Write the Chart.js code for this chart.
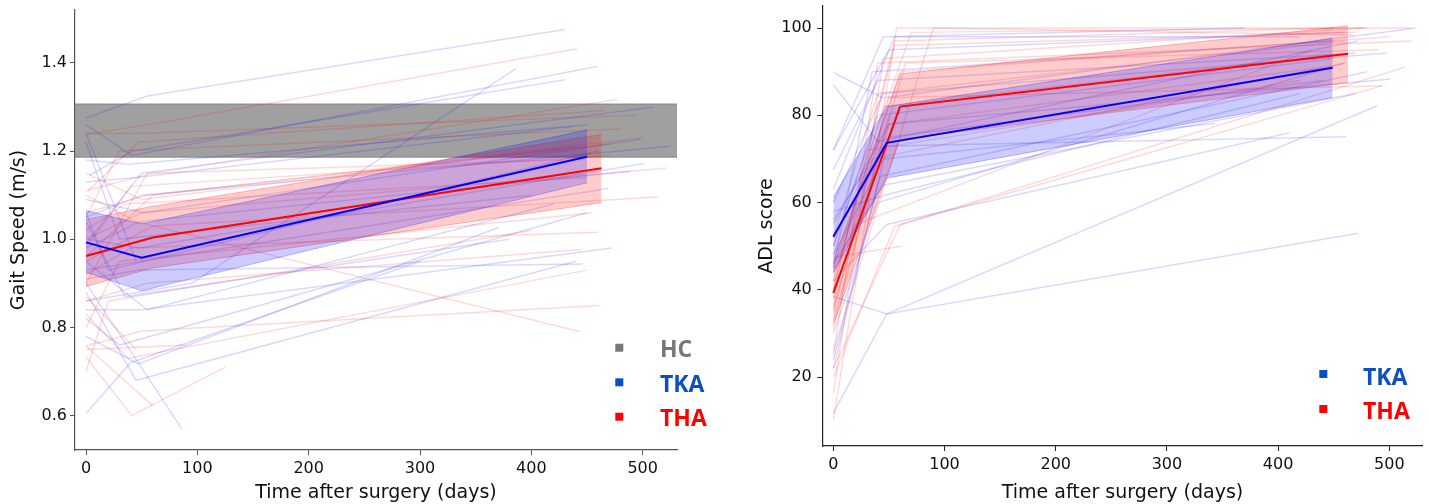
<!DOCTYPE html>
<html><head><meta charset="utf-8">
<script src="https://cdn.jsdelivr.net/npm/chart.js@4.4.1/dist/chart.umd.min.js"></script>
<style>
html,body{margin:0;padding:0;background:#fff;width:1429px;height:504px;overflow:hidden}
#c1{position:absolute;left:0;top:0}
#c2{position:absolute;left:715px;top:0}
</style></head><body>
<canvas id="c1" width="715" height="504"></canvas>
<canvas id="c2" width="714" height="504"></canvas>
<script>
// ---------- Gait speed panel (m/s), each subject = [[day, value], ...] ----------
const gaitTKA = [
 [[0,1.275],[55,1.325],[430,1.476]],
 [[0,1.26],[41,1.19],[459,1.392]],
 [[3,1.145],[42,1.20],[430,1.362]],
 [[0,0.86],[95,0.90],[386,1.387]],
 [[0,1.13],[45,1.14],[437,1.256]],
 [[0,1.09],[52,1.06],[498,1.227]],
 [[0,1.05],[50,1.10],[525,1.211]],
 [[2,1.00],[48,0.98],[501,1.172]],
 [[0,0.98],[48,1.04],[489,1.154]],
 [[0,0.93],[50,0.95],[469,1.115]],
 [[0,0.84],[50,0.84],[472,0.98]],
 [[0,0.91],[48,0.93],[446,0.944]],
 [[0,0.78],[47,0.717],[370,1.026]],
 [[0,0.605],[40,0.72],[300,0.95]],
 [[0,0.90],[86,0.57]],
 [[0,1.22],[30,1.00],[400,1.10]],
 [[0,1.04],[35,0.87],[380,1.00]],
 [[0,0.82],[30,0.76],[450,1.06]],
 [[0,1.06],[20,0.93],[460,1.20]],
 [[0,1.24],[45,0.95]],
 [[0,0.95],[55,0.84],[420,1.08]],
 [[0,0.99],[50,1.15],[510,1.30]],
 [[0,0.88],[45,0.68],[440,0.95]],
 [[0,1.18],[38,1.17],[450,1.26]]
];
const gaitTHA = [
 [[0,1.238],[66,1.264],[441,1.432]],
 [[0,1.24],[45,1.24],[494,1.281]],
 [[2,1.11],[47,1.22],[466,1.292]],
 [[0,1.11],[60,1.15],[477,1.317]],
 [[0,1.06],[55,1.10],[471,1.216]],
 [[0,1.00],[50,1.06],[521,1.161]],
 [[0,0.95],[60,1.03],[514,1.096]],
 [[0,0.92],[40,0.98],[460,1.016]],
 [[0,0.86],[55,0.90],[445,0.977]],
 [[0,0.758],[50,0.792],[461,0.85]],
 [[0,1.10],[45,1.04],[444,0.79]],
 [[0,0.733],[41,0.60],[125,0.71]],
 [[0,0.758],[60,0.622]],
 [[0,0.83],[38,0.73],[450,0.93]],
 [[0,0.70],[20,0.86],[400,1.02]],
 [[0,1.05],[30,1.20],[480,1.25]],
 [[0,0.98],[40,1.12],[470,1.19]],
 [[0,1.02],[35,1.08],[450,1.14]],
 [[0,0.90],[55,1.15],[430,1.18]],
 [[0,0.75],[90,0.76]],
 [[0,0.80],[30,0.95],[455,1.06]],
 [[0,0.87],[45,0.75]],
 [[0,0.96],[60,1.10],[500,1.23]],
 [[0,1.15],[50,1.09],[440,1.21]]
];
// group means and bands (gait)
const gaitTKADays = [0, 50, 450];
const gaitTKAMean = [0.993, 0.958, 1.187];
const gaitTKALow  = [0.925, 0.883, 1.128];
const gaitTKAHigh = [1.065, 1.035, 1.248];
const gaitTHADays = [0, 60, 463];
const gaitTHAMean = [0.962, 1.004, 1.161];
const gaitTHALow  = [0.893, 0.935, 1.083];
const gaitTHAHigh = [1.045, 1.075, 1.238];
// healthy controls band
const hcLow = 1.186, hcHigh = 1.307;
const gaitXRange = [-9.9, 530.8];
const gaitYRange = [0.522, 1.520];
const gaitYTicksStep = 0.2;

// ---------- ADL panel ----------
const adlTKA = [
 [[0,38.5],[48,34.5],[472,53]],
 [[0,11.8],[48,34.5],[489,82.2]],
 [[0,89.8],[45,84],[524,100]],
 [[0,87],[40,74],[471,97]],
 [[0,72],[45,98],[370,100]],
 [[0,67.5],[40,88],[469,94.2]],
 [[0,60],[45,85],[498,94.3]],
 [[0,55],[50,78],[501,88.3]],
 [[0,52],[48,73],[461,75.1]],
 [[0,48],[45,70],[343,78.1]],
 [[0,45],[35,90],[450,97]],
 [[0,58],[50,62],[420,85]],
 [[0,30],[40,60],[460,92]],
 [[0,22],[50,75],[440,88]],
 [[0,24],[42,66],[480,90]],
 [[0,72],[50,95],[460,99]],
 [[0,50],[40,80],[450,93]],
 [[0,63],[55,98],[420,98]],
 [[0,42],[48,55],[410,76]],
 [[0,56],[30,68]],
 [[0,46],[45,64],[470,85]]
];
const adlTHA = [
 [[0,10.2],[57,100],[520,100]],
 [[0,16.4],[45,93],[477,100]],
 [[0,26],[90,100],[468,98.4]],
 [[0,25],[40,92],[520,97]],
 [[0,20],[55,54.5],[514,91]],
 [[0,35],[50,84],[494,86.8]],
 [[0,40],[55,96],[470,99]],
 [[0,42],[45,82],[450,94]],
 [[0,45],[60,90],[500,98]],
 [[0,33],[50,78],[440,91]],
 [[0,38],[35,70],[460,92]],
 [[0,48],[70,99],[480,100]],
 [[0,50],[30,72],[420,88]],
 [[0,47.5],[61,50]],
 [[0,44],[20,55],[430,95]],
 [[0,36],[65,92],[490,95]],
 [[0,52],[40,85],[460,97]],
 [[0,22],[60,55],[494,86.8]],
 [[0,40],[55,97],[450,100]],
 [[0,31],[50,80]]
];
const adlTKADays = [0, 48, 449];
const adlTKAMean = [52.2, 73.7, 90.9];
const adlTKALow  = [44.0, 65.6, 84.1];
const adlTKAHigh = [61.3, 82.0, 97.7];
const adlTHADays = [0, 60, 463];
const adlTHAMean = [39.3, 82.0, 94.1];
const adlTHALow  = [32.0, 74.5, 87.5];
const adlTHAHigh = [46.5, 89.5, 100.5];
const adlXRange = [-9.9, 530.0];
const adlYRange = [4.26, 105.04];
const adlYTicksStep = 20;

const xTickStep = 100;
const xTitle = 'Time after surgery (days)';

// ---------- styling ----------
const BLUE = '#0000ff', RED = '#ff0000';
const BLUE_FAINT = 'rgba(0,0,255,0.15)', RED_FAINT = 'rgba(255,0,0,0.15)';
const BLUE_BAND = 'rgba(0,0,255,0.2)', RED_BAND = 'rgba(255,0,0,0.2)';
const BLUE_EDGE = 'rgba(0,0,255,0.25)', RED_EDGE = 'rgba(255,0,0,0.25)';
const LEG_GREY = '#777777', LEG_BLUE = '#0a50c0', LEG_RED = '#ff0000';

function pts(list){ return list.map(p => ({x:p[0], y:p[1]})); }
function zip(days, vals){ return days.map((d,i) => ({x:d, y:vals[i]})); }

function buildDatasets(tka, tha, bands, hc, xr){
  const ds = [];
  if (hc){
    const lowIdx = ds.length;
    ds.push({data: zip(xr, [hc[0], hc[0]]), borderColor:'rgba(90,90,90,0.55)', borderWidth:1, pointRadius:0, fill:false, order:100});
    ds.push({data: zip(xr, [hc[1], hc[1]]), borderColor:'rgba(90,90,90,0.55)', borderWidth:1, pointRadius:0, fill:{target:lowIdx}, backgroundColor:'rgba(128,128,128,0.75)', order:100});
  }
  tka.forEach(s => ds.push({data: pts(s), borderColor:BLUE_FAINT, borderWidth:1.5, pointRadius:0, fill:false, order:50}));
  tha.forEach(s => ds.push({data: pts(s), borderColor:RED_FAINT, borderWidth:1.5, pointRadius:0, fill:false, order:50}));
  bands.forEach((b, k) => {
    const lowIdx = ds.length;
    ds.push({data: zip(b.days, b.low), borderColor:b.edge, borderWidth:1, pointRadius:0, fill:false, order:20+k});
    ds.push({data: zip(b.days, b.high), borderColor:b.edge, borderWidth:1, pointRadius:0, fill:{target:lowIdx}, backgroundColor:b.fill, order:20+k});
  });
  bands.forEach((b, k) => {
    ds.push({data: zip(b.days, b.mean), borderColor:b.line, borderWidth:2, pointRadius:0, fill:false, order:1+k});
  });
  return ds;
}

const legendPlugin = {
  id: 'cornerLegend',
  afterDraw(chart, args, opts){
    const ctx = chart.ctx;
    ctx.save();
    ctx.font = 'bold 23px "Open Sans"';
    ctx.textBaseline = 'alphabetic';
    ctx.textAlign = 'left';
    opts.items.forEach(it => {
      ctx.fillStyle = it.color;
      ctx.fillRect(opts.markerX - 4, it.markerY - 4, 8, 8);
      ctx.fillText(it.text, opts.textX, it.baseline);
    });
    ctx.restore();
  }
};

function makeChart(id, cfg){
  const zeroPad = s => { s.paddingTop = 0; s.paddingBottom = 0; s.paddingLeft = 0; s.paddingRight = 0; };
  return new Chart(document.getElementById(id), {
    type: 'line',
    data: { datasets: cfg.datasets },
    plugins: [legendPlugin],
    options: {
      responsive: false, animation: false, devicePixelRatio: 1,
      layout: { padding: cfg.padding },
      elements: { line: { tension: 0 } },
      plugins: {
        legend: { display: false }, tooltip: { enabled: false },
        cornerLegend: cfg.legend
      },
      scales: {
        x: {
          type: 'linear', min: cfg.xr[0], max: cfg.xr[1],
          border: { display: true, color: cfg.spine, width: 1.2 },
          grid: { display: true, drawOnChartArea: false, drawTicks: true, tickLength: 5, tickColor: cfg.spine, tickWidth: 1 },
          ticks: { stepSize: xTickStep, includeBounds: false, color: '#111', padding: cfg.xPad, maxRotation: 0,
                   font: { family: '"DejaVu Sans"', size: 16 }, callback: v => String(Math.round(v)) },
          title: { display: true, text: xTitle, color: '#111', font: { family: '"DejaVu Sans"', size: 19 }, padding: { top: cfg.xTitlePad, bottom: 0 } },
          afterFit: s => { s.height = cfg.xH; zeroPad(s); }
        },
        y: {
          type: 'linear', min: cfg.yr[0], max: cfg.yr[1],
          border: { display: true, color: cfg.spine, width: 1.2 },
          grid: { display: true, drawOnChartArea: false, drawTicks: true, tickLength: 5, tickColor: cfg.spine, tickWidth: 1 },
          ticks: { stepSize: cfg.yStep, includeBounds: false, color: '#111', padding: cfg.yPad,
                   font: { family: '"DejaVu Sans"', size: 16 }, callback: v => cfg.yFmt(v) },
          title: { display: true, text: cfg.yTitle, color: '#111', font: { family: '"DejaVu Sans"', size: 19 }, padding: { top: cfg.yTitlePad, bottom: 0 } },
          afterFit: s => { s.width = cfg.yW; zeroPad(s); }
        }
      }
    }
  });
}

makeChart('c1', {
  datasets: buildDatasets(gaitTKA, gaitTHA, [
    {days: gaitTKADays, low: gaitTKALow, high: gaitTKAHigh, mean: gaitTKAMean, fill: BLUE_BAND, edge: BLUE_EDGE, line: BLUE},
    {days: gaitTHADays, low: gaitTHALow, high: gaitTHAHigh, mean: gaitTHAMean, fill: RED_BAND, edge: RED_EDGE, line: RED}
  ], [hcLow, hcHigh], gaitXRange),
  padding: { top: 10, right: 38, left: 0, bottom: 0 },
  xr: gaitXRange, yr: gaitYRange, yStep: gaitYTicksStep,
  yFmt: v => v.toFixed(1), yTitle: 'Gait Speed (m/s)',
  spine: '#555', xPad: 4, yPad: 3, xTitlePad: 4.3, yTitlePad: 7.6, xH: 54, yW: 75,
  legend: { markerX: 619.3, textX: 660, items: [
    {text: 'HC',  color: LEG_GREY, markerY: 347.7, baseline: 357.3},
    {text: 'TKA', color: LEG_BLUE, markerY: 382.3, baseline: 391.7},
    {text: 'THA', color: LEG_RED,  markerY: 416.7, baseline: 426}
  ]}
});

makeChart('c2', {
  datasets: buildDatasets(adlTKA, adlTHA, [
    {days: adlTKADays, low: adlTKALow, high: adlTKAHigh, mean: adlTKAMean, fill: BLUE_BAND, edge: BLUE_EDGE, line: BLUE},
    {days: adlTHADays, low: adlTHALow, high: adlTHAHigh, mean: adlTHAMean, fill: RED_BAND, edge: RED_EDGE, line: RED}
  ], null, adlXRange),
  padding: { top: 6, right: 6.3, left: 0, bottom: 0 },
  xr: adlXRange, yr: adlYRange, yStep: adlYTicksStep,
  yFmt: v => String(Math.round(v)), yTitle: 'ADL score',
  spine: '#222', xPad: 4.5, yPad: 5.5, xTitlePad: 7.6, yTitlePad: 40.3, xH: 58, yW: 107.3,
  legend: { markerX: 608.3, textX: 648, items: [
    {text: 'TKA', color: LEG_BLUE, markerY: 374, baseline: 385},
    {text: 'THA', color: LEG_RED,  markerY: 409, baseline: 419.3}
  ]}
});
</script>
</body></html>
